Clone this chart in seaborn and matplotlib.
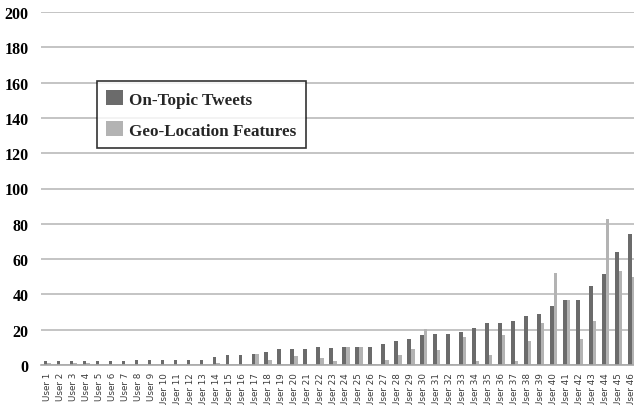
import numpy as np
import pandas as pd
import matplotlib
matplotlib.use("Agg")
import matplotlib.pyplot as plt
import seaborn as sns

users = [f"User {i}" for i in range(1, 47)]
on_topic = [2, 2, 2, 2, 2, 2, 2, 3, 3, 3, 3, 3, 3, 4.5, 5.7, 5.7, 6.5, 7.6, 9, 9,
            9, 10, 9.8, 10.4, 10.4, 10.4, 11.7, 13.6, 14.5, 16.8, 17.8, 17.8, 18.7, 20.8, 23.8, 23.8,
            24.7, 27.9, 28.7, 33.6, 36.8, 36.8, 44.7, 51.7, 64, 74.2]
geo = [1, 0, 1, 1, 0, 0, 0, 0, 0, 0, 0, 0, 0, 1, 0, 0, 6, 3, 0, 5,
       0, 4, 2.5, 10.4, 10.4, 0.5, 3, 5.5, 9.3, 20.6, 8.5, 0.5, 15.9, 2, 5.7, 16.8,
       2.3, 13.4, 23.6, 51.9, 36.8, 14.5, 24.7, 83, 53, 50]
series = ["On-Topic Tweets", "Geo-Location Features"]
yticks = [0, 20, 40, 60, 80, 100, 120, 140, 160, 180, 200]

df = pd.DataFrame({
    "user": users * 2,
    "value": on_topic + geo,
    "series": [series[0]] * len(users) + [series[1]] * len(users),
})

sns.set_style("white")
fig = plt.figure(figsize=(6.34, 4.06), dpi=100)
W, H = 634, 406
left, right, top, bottom = 41, 638, 13, 366
ax = fig.add_axes([left / W, 1 - bottom / H, (right - left) / W, (bottom - top) / H])

sns.barplot(data=df, x="user", y="value", hue="series", order=users,
            hue_order=series, palette=["#6b6b6b", "#b3b3b3"], width=0.56,
            saturation=1, ax=ax, legend=False, linewidth=0, errorbar=None)

ax.set_ylim(0, 200)
ax.set_xlim(-0.5, len(users) - 0.5)
ax.set_yticks(yticks)
ax.set_yticklabels([str(v) for v in yticks], fontfamily="Liberation Serif",
                   fontweight="bold", fontsize=11.5, color="black")
ax.yaxis.grid(True, color="#c4c4c4", linewidth=1.4)
ax.set_axisbelow(True)
for s in ["top", "right", "left"]:
    ax.spines[s].set_visible(False)
ax.spines["bottom"].set_color("#a8a8a8")
ax.spines["bottom"].set_linewidth(1.2)
ax.tick_params(axis="y", length=0, pad=9)
ax.set_xticks(range(len(users)))
ax.set_xticklabels(users, rotation=90, fontsize=6.3, color="#3a3a3a",
                   fontfamily="DejaVu Sans")
ax.tick_params(axis="x", which="major", length=0, pad=5)
ax.set_xticks(np.arange(-0.5, len(users)), minor=True)
ax.tick_params(axis="x", which="minor", length=3, color="#a8a8a8", width=0.8)
ax.set_xlabel("")
ax.set_ylabel("")

from matplotlib.patches import Patch
handles = [Patch(facecolor="#6b6b6b", edgecolor="none"),
           Patch(facecolor="#b3b3b3", edgecolor="none")]
leg = fig.legend(handles, series, loc="upper left",
                 bbox_to_anchor=(97 / W, 1 - 82 / H),
                 prop={"family": "Liberation Serif", "weight": "bold", "size": 12.3},
                 frameon=True, fancybox=False, edgecolor="black",
                 handlelength=0.95, handleheight=0.95, handletextpad=0.4,
                 borderpad=0.55, labelspacing=0.8, borderaxespad=0)
leg.get_frame().set_linewidth(1.2)

fig.savefig("out.png", dpi=100)
